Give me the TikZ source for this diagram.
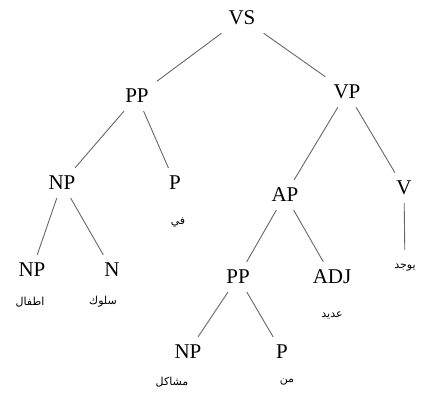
\documentclass[tikz,border=0pt]{standalone}
\usepackage{fontspec}
\setmainfont{Liberation Serif}
\newfontfamily\arabicfont[Script=Arabic]{DejaVu Sans}
\TeXXeTstate=1
\begin{document}
\begin{tikzpicture}[x=1pt,y=-1pt,
  cat/.style={font=\fontsize{21}{23}\selectfont, inner sep=8pt},
  word/.style={font=\arabicfont\fontsize{11}{12}\selectfont, inner sep=2pt},
  edge/.style={draw=black!60, line width=0.9pt}]
\useasboundingbox (0,0) rectangle (427,392);
\node[cat] (vs) at (242,18) {VS};
\node[cat] (pp1) at (137,96) {PP};
\node[cat] (vp) at (347,92) {VP};
\node[cat] (np1) at (62,183) {NP};
\node[cat] (p1) at (175,183) {P};
\node[cat] (ap) at (285,195) {AP};
\node[cat] (v) at (404,188) {V};
\node[cat] (np2) at (32,270) {NP};
\node[cat] (n) at (112,270) {N};
\node[cat] (pp2) at (238,277) {PP};
\node[cat] (adj) at (332,277) {ADJ};
\node[cat] (np3) at (188,352) {NP};
\node[cat] (p2) at (282,352) {P};
\node[word] (w1) at (30,302) {\beginR اطفال\endR};
\node[word] (w2) at (103,302) {\beginR سلوك\endR};
\node[word] (w3) at (178,222) {\beginR في\endR};
\node[word] (w4) at (405,268) {\beginR يوجد\endR};
\node[word] (w5) at (332,315) {\beginR عديد\endR};
\node[word] (w6) at (172,382) {\beginR مشاكل\endR};
\node[word] (w7) at (287,382) {\beginR من\endR};
\draw[edge] (vs) -- (pp1);
\draw[edge] (vs) -- (vp);
\draw[edge] (pp1) -- (np1);
\draw[edge] (pp1) -- (p1);
\draw[edge] (vp) -- (ap);
\draw[edge] (vp) -- (v);
\draw[edge] (np1) -- (np2);
\draw[edge] (np1) -- (n);
\draw[edge] (ap) -- (pp2);
\draw[edge] (ap) -- (adj);
\draw[edge] (pp2) -- (np3);
\draw[edge] (pp2) -- (p2);
\draw[edge, shorten >=12pt] (v) -- (w4);
\end{tikzpicture}
\end{document}
